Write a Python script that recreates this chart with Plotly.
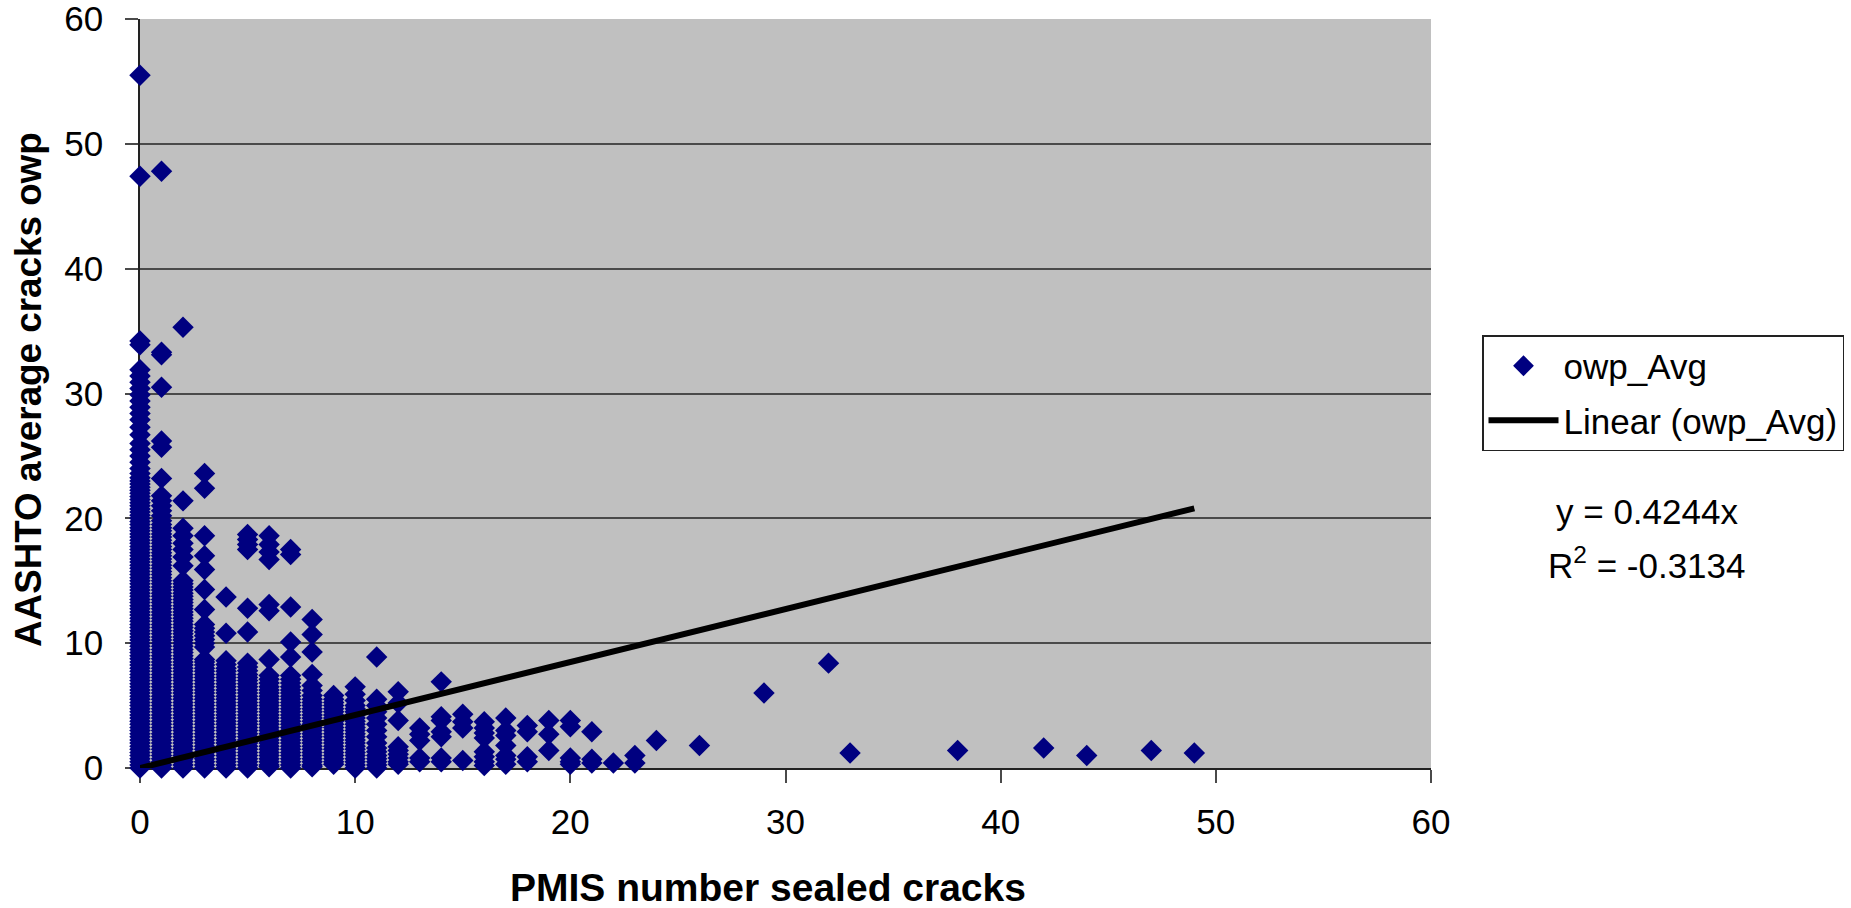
import plotly.graph_objects as go

SERIES_NAME = "owp_Avg"
TREND_NAME = "Linear (owp_Avg)"
X_TITLE = "PMIS number sealed cracks"
Y_TITLE = "AASHTO average cracks owp"
EQUATION = "y = 0.4244x"
R_SQUARED = "R<sup>2</sup> = -0.3134"
X_TICKS = [0, 10, 20, 30, 40, 50, 60]
Y_TICKS = [0, 10, 20, 30, 40, 50, 60]
TREND_X = [0, 49]
TREND_Y = [0, 20.8]

col_00 = [55.5, 47.4, 34.2, 33.9, 31.9, 31.4, 30.9, 30.4, 29.9, 29.4, 28.9, 28.4, 27.9, 27.3, 26.7, 26.0, 25.5, 25.0,
          24.5, 24.0, 23.6, 23.25, 23.0, 22.75, 22.5, 22.25, 22.0, 21.75, 21.5, 21.25, 21.0, 20.75, 20.5, 20.25, 20.0,
          19.75, 19.5, 19.25, 19.0, 18.75, 18.5, 18.25, 18.0, 17.75, 17.5, 17.25, 17.0, 16.75, 16.5, 16.25, 16.0,
          15.75, 15.5, 15.25, 15.0, 14.75, 14.5, 14.25, 14.0, 13.75, 13.5, 13.25, 13.0, 12.75, 12.5, 12.25, 12.0,
          11.75, 11.5, 11.25, 11.0, 10.75, 10.5, 10.25, 10.0, 9.75, 9.5, 9.25, 9.0, 8.75, 8.5, 8.25, 8.0, 7.75, 7.5,
          7.25, 7.0, 6.75, 6.5, 6.25, 6.0, 5.75, 5.5, 5.25, 5.0, 4.75, 4.5, 4.25, 4.0, 3.75, 3.5, 3.25, 3.0, 2.75,
          2.5, 2.25, 2.0, 1.75, 1.5, 1.25, 1.0, 0.75, 0.5, 0.25, 0.0]
col_01 = [47.8, 33.3, 33.1, 30.5, 26.2, 25.7, 23.2, 21.8, 21.4, 21.0, 20.6, 20.2, 19.8, 19.5, 19.25, 19.0, 18.75, 18.5,
          18.25, 18.0, 17.75, 17.5, 17.25, 17.0, 16.75, 16.5, 16.25, 16.0, 15.75, 15.5, 15.25, 15.0, 14.75, 14.5,
          14.25, 14.0, 13.75, 13.5, 13.25, 13.0, 12.75, 12.5, 12.25, 12.0, 11.75, 11.5, 11.25, 11.0, 10.75, 10.5,
          10.25, 10.0, 9.75, 9.5, 9.25, 9.0, 8.75, 8.5, 8.25, 8.0, 7.75, 7.5, 7.25, 7.0, 6.75, 6.5, 6.25, 6.0, 5.75,
          5.5, 5.25, 5.0, 4.75, 4.5, 4.25, 4.0, 3.75, 3.5, 3.25, 3.0, 2.75, 2.5, 2.25, 2.0, 1.75, 1.5, 1.25, 1.0,
          0.75, 0.5, 0.25, 0.0]
col_02 = [35.3, 21.4, 19.2, 18.6, 18.0, 17.5, 16.9, 16.2, 15.0, 14.75, 14.5, 14.25, 14.0, 13.75, 13.5, 13.25, 13.0,
          12.75, 12.5, 12.25, 12.0, 11.75, 11.5, 11.25, 11.0, 10.75, 10.5, 10.25, 10.0, 9.75, 9.5, 9.25, 9.0, 8.75,
          8.5, 8.25, 8.0, 7.75, 7.5, 7.25, 7.0, 6.75, 6.5, 6.25, 6.0, 5.75, 5.5, 5.25, 5.0, 4.75, 4.5, 4.25, 4.0,
          3.75, 3.5, 3.25, 3.0, 2.75, 2.5, 2.25, 2.0, 1.75, 1.5, 1.25, 1.0, 0.75, 0.5, 0.25, 0.0]
col_03 = [23.6, 22.4, 18.6, 17.0, 15.9, 14.3, 12.7, 11.5, 11.2, 10.9, 10.6, 10.3, 10.0, 9.7, 8.7, 8.5, 8.25, 8.0,
          7.75, 7.5, 7.25, 7.0, 6.75, 6.5, 6.25, 6.0, 5.75, 5.5, 5.25, 5.0, 4.75, 4.5, 4.25, 4.0, 3.75, 3.5, 3.25,
          3.0, 2.75, 2.5, 2.25, 2.0, 1.75, 1.5, 1.25, 1.0, 0.75, 0.5, 0.25, 0.0]
col_04 = [13.7, 10.8, 8.6, 8.3, 8.0, 7.75, 7.5, 7.25, 7.0, 6.75, 6.5, 6.25, 6.0, 5.75, 5.5, 5.25, 5.0, 4.75, 4.5,
          4.25, 4.0, 3.75, 3.5, 3.25, 3.0, 2.75, 2.5, 2.25, 2.0, 1.75, 1.5, 1.25, 1.0, 0.75, 0.5, 0.25, 0.0]
col_05 = [18.7, 18.3, 17.9, 17.5, 12.8, 10.9, 8.4, 8.1, 7.8, 7.5, 7.25, 7.0, 6.75, 6.5, 6.25, 6.0, 5.75, 5.5, 5.25,
          5.0, 4.75, 4.5, 4.25, 4.0, 3.75, 3.5, 3.25, 3.0, 2.75, 2.5, 2.25, 2.0, 1.75, 1.5, 1.25, 1.0, 0.75, 0.5,
          0.25, 0.0]
col_06 = [18.6, 17.9, 17.3, 16.7, 13.1, 12.6, 8.7, 7.4, 7.1, 6.8, 6.5, 6.25, 6.0, 5.75, 5.5, 5.25, 5.0, 4.75, 4.5,
          4.25, 4.0, 3.75, 3.5, 3.25, 3.0, 2.75, 2.5, 2.25, 2.0, 1.75, 1.5, 1.25, 1.0, 0.75, 0.5, 0.25, 0.1]
col_07 = [17.5, 17.1, 12.9, 10.1, 8.9, 7.4, 7.1, 6.8, 6.5, 6.25, 6.0, 5.75, 5.5, 5.25, 5.0, 4.75, 4.5, 4.25, 4.0,
          3.75, 3.5, 3.25, 3.0, 2.75, 2.5, 2.25, 2.0, 1.75, 1.5, 1.25, 1.0, 0.75, 0.5, 0.25, 0.0]
col_08 = [11.9, 10.7, 9.3, 7.5, 6.6, 6.2, 5.8, 5.5, 5.25, 5.0, 4.75, 4.5, 4.25, 4.0, 3.75, 3.5, 3.25, 3.0, 2.75, 2.5,
          2.25, 2.0, 1.75, 1.5, 1.25, 1.0, 0.75, 0.5, 0.25, 0.1]
col_09 = [5.8, 5.5, 5.25, 5.0, 4.75, 4.5, 4.25, 4.0, 3.75, 3.5, 3.25, 3.0, 2.75, 2.5, 2.25, 2.0, 1.75, 1.5, 1.25, 1.0,
          0.75, 0.5, 0.3]
col_10 = [6.5, 5.9, 5.4, 5.0, 4.75, 4.5, 4.25, 4.0, 3.75, 3.5, 3.25, 3.0, 2.75, 2.5, 2.25, 2.0, 1.75, 1.5, 1.25, 1.0,
          0.75, 0.5, 0.25, 0.0]
col_11 = [8.9, 5.5, 5.0, 4.5, 4.0, 3.5, 3.0, 2.5, 2.0, 1.6, 1.3, 1.0, 0.75, 0.5, 0.25, 0.0]
col_12 = [6.1, 5.2, 3.8, 1.7, 1.4, 1.1, 0.8, 0.5, 0.3]
col_13 = [3.2, 2.7, 2.2, 0.8, 0.5]
col_14 = [6.9, 4.1, 3.8, 2.9, 2.5, 0.8, 0.5]
col_15 = [4.3, 3.7, 3.2, 0.6]
col_16 = [3.7, 3.2, 2.8, 2.4, 1.3, 0.9, 0.5, 0.2]
col_17 = [4.0, 3.0, 2.6, 1.8, 1.0, 0.7, 0.3]
col_18 = [3.4, 2.9, 0.9, 0.5]
col_19 = [3.8, 2.7, 1.4]
col_20 = [3.8, 3.3, 0.8, 0.5, 0.3]
col_21 = [2.9, 0.7, 0.4]
col_22 = [0.4]
col_23 = [1.0, 0.4]
sparse_x = [24, 26, 29, 32, 33, 38, 42, 44, 47, 49]
sparse_y = [2.2, 1.8, 6.0, 8.4, 1.2, 1.4, 1.6, 1.0, 1.4, 1.2]

columns = [col_00, col_01, col_02, col_03, col_04, col_05, col_06, col_07, col_08, col_09, col_10, col_11,
           col_12, col_13, col_14, col_15, col_16, col_17, col_18, col_19, col_20, col_21, col_22, col_23]
xs, ys = [], []
for i, col in enumerate(columns):
    xs += [i] * len(col)
    ys += col
xs += sparse_x
ys += sparse_y

FONT = "Liberation Sans, Arial, sans-serif"
NAVY = "#000080"
GRID = "#4a4a4a"
TICK_SIZE = 35

fig = go.Figure()
fig.add_trace(go.Scatter(x=xs, y=ys, mode="markers", name=SERIES_NAME, cliponaxis=False, legendgroup="a",
                         marker=dict(symbol="diamond", size=16.5, color=NAVY, line=dict(width=0))))
fig.add_trace(go.Scatter(x=TREND_X, y=TREND_Y, mode="lines", name=TREND_NAME, cliponaxis=False, legendgroup="b",
                         line=dict(color="black", width=6)))

axis = dict(range=[0, 60], ticks="outside", ticklen=13, tickwidth=1.5, tickcolor=GRID, showline=True,
            linecolor="#222222", linewidth=1.5, zeroline=False, layer="below traces", automargin=False,
            ticklabeloverflow="allow", tickfont=dict(family=FONT, size=TICK_SIZE, color="black"))
fig.update_xaxes(**axis, tickvals=X_TICKS, showgrid=False, ticklabelstandoff=9)
fig.update_yaxes(**axis, tickvals=Y_TICKS, showgrid=True, gridcolor=GRID, gridwidth=1.5, ticklabelstandoff=15)

fig.update_layout(
    width=1851, height=908, autosize=False,
    margin=dict(l=140, r=420, t=19, b=140, pad=0, autoexpand=False),
    paper_bgcolor="white", plot_bgcolor="#c0c0c0",
    font=dict(family=FONT, color="black"),
    showlegend=True,
    legend=dict(x=1482/1851, xref="container", xanchor="left", y=1-335/908, yref="container", yanchor="top",
                bordercolor="#222222", borderwidth=1.5, bgcolor="white",
                font=dict(family=FONT, size=TICK_SIZE), itemwidth=70, tracegroupgap=6,
                entrywidth=292, entrywidthmode="pixels", traceorder="grouped"),
    annotations=[
        dict(text="<b>" + X_TITLE + "</b>", xref="paper", yref="paper", x=(768-140)/1291, y=(768-888)/749,
             xanchor="center", yanchor="middle", showarrow=False, font=dict(family=FONT, size=39, color="black")),
        dict(text="<b>" + Y_TITLE + "</b>", xref="paper", yref="paper", x=(28-140)/1291, y=(768-390)/749,
             xanchor="center", yanchor="middle", textangle=-90, showarrow=False,
             font=dict(family=FONT, size=36.8, color="black")),
        dict(text=EQUATION, xref="paper", yref="paper", x=(1647-140)/1291, y=(768-511)/749, showarrow=False,
             xanchor="center", yanchor="middle", font=dict(family=FONT, size=TICK_SIZE, color="black")),
        dict(text=R_SQUARED, xref="paper", yref="paper", x=(1647-140)/1291, y=(768-563)/749, showarrow=False,
             xanchor="center", yanchor="middle", font=dict(family=FONT, size=TICK_SIZE, color="black")),
    ],
)
fig.write_html("out.html", post_script="document.body.style.margin='0';", config={"displayModeBar": False})
